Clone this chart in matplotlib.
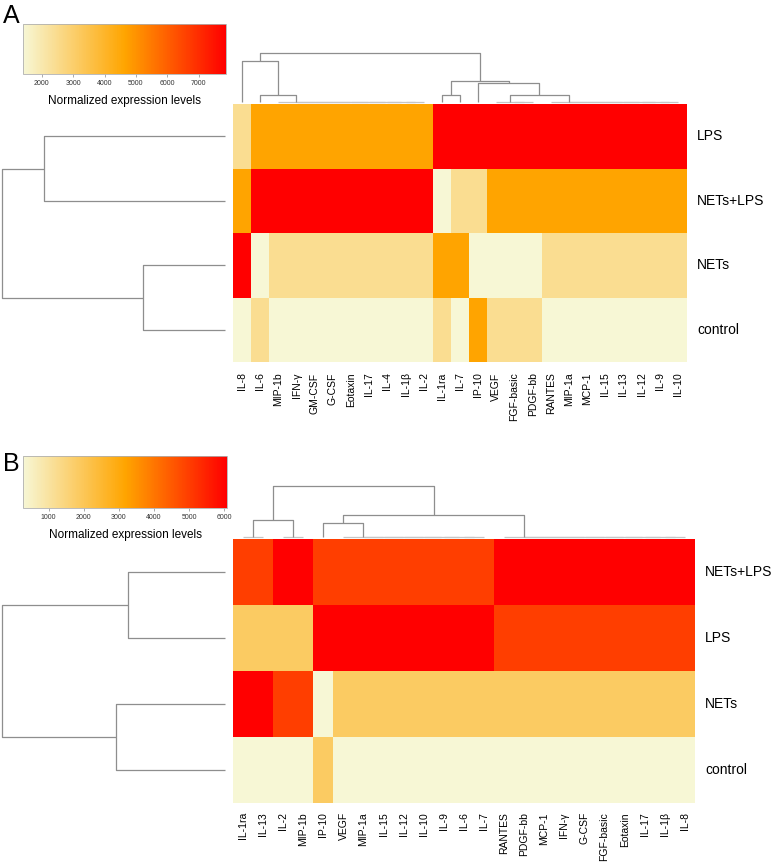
import numpy as np
import matplotlib
matplotlib.use("Agg")
import matplotlib.pyplot as plt
from matplotlib.colors import LinearSegmentedColormap

plt.rcParams['font.family'] = ['Liberation Sans', 'DejaVu Sans']

# ---- panel A ----
a_cols = ["IL-8", "IL-6", "MIP-1b", "IFN-γ", "GM-CSF", "G-CSF", "Eotaxin", "IL-17", "IL-4",
          "IL-1β", "IL-2", "IL-1ra", "IL-7", "IP-10", "VEGF", "FGF-basic", "PDGF-bb",
          "RANTES", "MIP-1a", "MCP-1", "IL-15", "IL-13", "IL-12", "IL-9", "IL-10"]
a_rows = ["LPS", "NETs+LPS", "NETs", "control"]
a_lps = [2450, 4640, 4640, 4640, 4640, 4640, 4640, 4640, 4640, 4640, 4640, 7870, 7870,
         7870, 7870, 7870, 7870, 7870, 7870, 7870, 7870, 7870, 7870, 7870, 7870]
a_netslps = [4640, 7870, 7870, 7870, 7870, 7870, 7870, 7870, 7870, 7870, 7870, 1400, 2450,
             2450, 4640, 4640, 4640, 4640, 4640, 4640, 4640, 4640, 4640, 4640, 4640]
a_nets = [7870, 1400, 2450, 2450, 2450, 2450, 2450, 2450, 2450, 2450, 2450, 4640, 4640,
          1400, 1400, 1400, 1400, 2450, 2450, 2450, 2450, 2450, 2450, 2450, 2450]
a_control = [1400, 2450, 1400, 1400, 1400, 1400, 1400, 1400, 1400, 1400, 1400, 2450, 1400,
             4640, 2450, 2450, 2450, 1400, 1400, 1400, 1400, 1400, 1400, 1400, 1400]
a_range = (1400, 7870)
a_ticks = [2000, 3000, 4000, 5000, 6000, 7000]

# ---- panel B ----
b_cols = ["IL-1ra", "IL-13", "IL-2", "MIP-1b", "IP-10", "VEGF", "MIP-1a", "IL-15", "IL-12",
          "IL-10", "IL-9", "IL-6", "IL-7", "RANTES", "PDGF-bb", "MCP-1", "IFN-γ", "G-CSF",
          "FGF-basic", "Eotaxin", "IL-17", "IL-1β", "IL-8"]
b_rows = ["NETs+LPS", "LPS", "NETs", "control"]
b_netslps = [4980, 4980, 6080, 6080, 4980, 4980, 4980, 4980, 4980, 4980, 4980, 4980, 4980,
             6080, 6080, 6080, 6080, 6080, 6080, 6080, 6080, 6080, 6080]
b_lps = [1850, 1850, 1850, 1850, 6080, 6080, 6080, 6080, 6080, 6080, 6080, 6080, 6080,
         4980, 4980, 4980, 4980, 4980, 4980, 4980, 4980, 4980, 4980]
b_nets = [6080, 6080, 4980, 4980, 270, 1850, 1850, 1850, 1850, 1850, 1850, 1850, 1850,
          1850, 1850, 1850, 1850, 1850, 1850, 1850, 1850, 1850, 1850]
b_control = [270, 270, 270, 270, 1850, 270, 270, 270, 270, 270, 270, 270, 270,
             270, 270, 270, 270, 270, 270, 270, 270, 270, 270]
b_range = (270, 6080)
b_ticks = [1000, 2000, 3000, 4000, 5000, 6000]


def zincir(yapraklar):
    # sifir yukseklikte sagdan zincir birlesme
    dugum = yapraklar[-1]
    for y in reversed(yapraklar[:-1]):
        dugum = (0, y, dugum)
    return dugum


# agac yapilari: (yukseklik, sol, sag)
a_col_tree = (148, (124, 0, (20, 1, zincir(list(range(2, 11))))),
              (63, (20, 11, 12), (56, 13, (20, zincir([14, 15, 16]), zincir(list(range(17, 25)))))))
a_row_tree = (223, (181, 0, 1), (82, 2, 3))
b_col_tree = (153, (49, zincir([0, 1]), zincir([2, 3])),
              (64, (40, 4, zincir(list(range(5, 13)))), zincir(list(range(13, 23)))))
b_row_tree = (223, (97, 0, 1), (109, 2, 3))

renkler = LinearSegmentedColormap.from_list("isi", ["#f7f7d5", "#ffa500", "#ff0000"])

W, H = 780, 865
fig = plt.figure(figsize=(W / 100, H / 100), dpi=100)


def eksen(x0, y0, x1, y1):
    return fig.add_axes([x0 / W, 1 - y1 / H, (x1 - x0) / W, (y1 - y0) / H])


def dendro(ax, node, yatay):
    if isinstance(node, int):
        return node + 0.5, 0
    h, l, r = node
    xl, hl = dendro(ax, l, yatay)
    xr, hr = dendro(ax, r, yatay)
    renk = "#c6c6c6" if h == 0 else "#8e8e8e"
    xs = [xl, xl, xr, xr]
    ys = [hl, h, h, hr]
    if yatay:
        ax.plot(ys, xs, color=renk, lw=0.9, clip_on=False, solid_capstyle="butt")
    else:
        ax.plot(xs, ys, color=renk, lw=0.9, clip_on=False, solid_capstyle="butt")
    return (xl + xr) / 2, h


def panel(harf, harf_y, cb_box, cd_box, rd_box, hm_box, cols, rows, veri, aralik, ticks,
          col_tree, row_tree, label_x):
    fig.text(3 / W, 1 - harf_y / H, harf, fontsize=18, va="top", ha="left")

    # renk skalasi
    cax = eksen(*cb_box)
    sm = plt.cm.ScalarMappable(cmap=renkler, norm=plt.Normalize(*aralik))
    cb = fig.colorbar(sm, cax=cax, orientation="horizontal", ticks=ticks)
    cb.outline.set_edgecolor("#b0b0b0")
    cb.outline.set_linewidth(0.6)
    cax.tick_params(labelsize=5, length=2, width=0.5, color="#888888", labelcolor="#333333", pad=2)
    cax.set_xlabel("Normalized expression levels", fontsize=8.5, labelpad=6)

    # sutun dendrogrami
    ax = eksen(*cd_box)
    dendro(ax, col_tree, False)
    ax.set_xlim(0, len(cols))
    ax.set_ylim(0, col_tree[0])
    ax.axis("off")

    # satir dendrogrami
    ax = eksen(*rd_box)
    dendro(ax, row_tree, True)
    ax.set_xlim(row_tree[0], 0)
    ax.set_ylim(len(rows), 0)
    ax.axis("off")

    # isi haritasi
    ax = eksen(*hm_box)
    ax.pcolormesh(np.array(veri), cmap=renkler, vmin=aralik[0], vmax=aralik[1])
    ax.set_xlim(0, len(cols))
    ax.set_ylim(len(rows), 0)
    ax.set_xticks(np.arange(len(cols)) + 0.5)
    ax.set_xticklabels(cols, rotation=90, fontsize=7.5)
    ax.set_yticks([])
    ax.tick_params(axis="x", length=0, pad=label_x)
    for s in ax.spines.values():
        s.set_visible(False)
    for i, r in enumerate(rows):
        ax.text(len(cols) + 0.55 * len(cols) / 25, i + 0.5, r, fontsize=10, va="center", ha="left")


panel("A", 4, (23, 24, 226, 74), (233, 52.7, 687, 102), (2, 104, 225, 362),
      (233, 104, 687, 362), a_cols, a_rows, [a_lps, a_netslps, a_nets, a_control],
      a_range, a_ticks, a_col_tree, a_row_tree, 7.5)
panel("B", 452, (23, 455.7, 227, 508.3), (233, 485.7, 695, 536.7), (2, 539, 225, 803),
      (233, 539, 695, 803), b_cols, b_rows, [b_netslps, b_lps, b_nets, b_control],
      b_range, b_ticks, b_col_tree, b_row_tree, 6.5)

fig.savefig("out.png", dpi=100)
